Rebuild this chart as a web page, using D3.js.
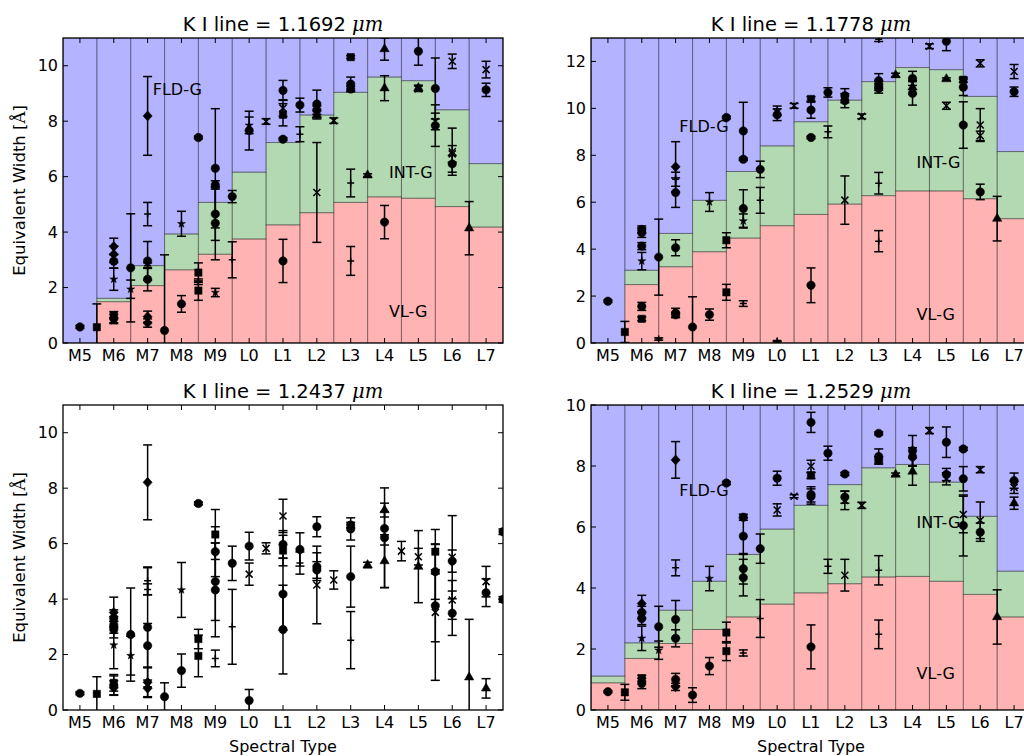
<!DOCTYPE html>
<html><head><meta charset="utf-8">
<script src="https://cdn.jsdelivr.net/npm/d3@7"></script>
<style>
body{margin:0;background:#fff;}
svg{display:block;font-family:"DejaVu Sans",sans-serif;}
</style></head>
<body><svg id="chart" width="1024" height="756"></svg>
<script>
// ---------- DATA ----------
const spectralTypes = ["M5","M6","M7","M8","M9","L0","L1","L2","L3","L4","L5","L6","L7"];
const lineWavelengths = ["1.1692","1.1778","1.2437","1.2529"];
const gravityClasses = ["VL-G","INT-G","FLD-G"];

// upper limits of the gravity-class bands per spectral type
const vlgLimit11692 = [0, 1.49, 2.07, 2.64, 3.20, 3.75, 4.26, 4.70, 5.07, 5.27, 5.22, 4.92, 4.18];
const intLimit11692 = [0, 1.61, 2.79, 3.93, 5.07, 6.16, 7.23, 8.22, 9.04, 9.59, 9.46, 8.41, 6.47];
const vlgLimit11778 = [0, 2.49, 3.25, 3.89, 4.47, 5.00, 5.48, 5.92, 6.28, 6.48, 6.48, 6.15, 5.30];
const intLimit11778 = [0, 3.10, 4.67, 6.08, 7.31, 8.40, 9.43, 10.35, 11.14, 11.74, 11.65, 10.51, 8.16];
const vlgLimit12529 = [0.89, 1.69, 2.18, 2.64, 3.05, 3.47, 3.84, 4.14, 4.36, 4.38, 4.22, 3.79, 3.05];
const intLimit12529 = [1.11, 2.20, 3.27, 4.22, 5.10, 5.93, 6.71, 7.39, 7.94, 8.05, 7.47, 6.35, 4.55];

// measured equivalent widths: [spectral type, EW, error, object group]
const ew11692 = [
 ["M5",0.58,0.05,"o"],["M5.5",0.57,0.84,"s"],
 ["M6",3.48,0.30,"D"],["M6",3.20,0.30,"D"],["M6",2.95,0.25,"o"],["M6",2.30,0.40,"*"],["M6",1.01,0.12,"s"],["M6",0.88,0.15,"o"],["M6",0.80,0.10,"*"],
 ["M6.5",2.71,1.95,"o"],["M6.5",1.94,0.33,"*"],
 ["M7",8.19,1.42,"D"],["M7",4.65,0.42,"+"],["M7",2.96,0.70,"o"],["M7",2.79,0.10,"+"],["M7",2.30,0.42,"o"],["M7",0.95,0.20,"D"],["M7",0.72,0.15,"D"],
 ["M7.5",0.45,2.73,"o"],
 ["M8",4.30,0.45,"*"],["M8",1.41,0.30,"o"],
 ["M8.5",7.41,0.05,"o"],["M8.5",2.54,0.35,"s"],["M8.5",2.21,0.10,"+"],["M8.5",1.89,0.35,"s"],
 ["M9",6.30,2.15,"o"],["M9",5.70,0.15,"o"],["M9",4.65,0.95,"o"],["M9",4.32,1.32,"o"],["M9",1.82,0.15,"*"],
 ["M9.5",5.28,0.22,"o"],["M9.5",3.00,0.65,"+"],
 ["L0",7.66,0.70,"o"],["L0",7.85,0.30,"*"],
 ["L0.5",7.99,0.10,"x"],
 ["L1",9.11,0.36,"o"],["L1",8.47,0.30,"x"],["L1",8.23,0.40,"s"],["L1",7.35,0.05,"o"],["L1",2.96,0.78,"o"],
 ["L1.5",8.58,0.25,"o"],["L1.5",7.53,0.27,"+"],
 ["L2",8.62,0.50,"o"],["L2",8.40,0.15,"o"],["L2",8.23,0.15,"^"],["L2",5.43,1.80,"x"],
 ["L2.5",8.02,0.10,"x"],
 ["L3",10.31,0.05,"s"],["L3",9.34,0.25,"o"],["L3",9.16,0.10,"o"],["L3",5.77,0.50,"+"],["L3",2.96,0.52,"+"],
 ["L3.5",6.05,0.05,"^"],
 ["L4",10.60,0.40,"^"],["L4",9.19,0.45,"^"],["L4",4.36,0.60,"o"],
 ["L5",10.52,0.50,"o"],["L5",9.17,0.10,"x"],["L5",9.20,0.10,"^"],
 ["L5.5",9.18,1.10,"o"],["L5.5",7.99,0.30,"x"],["L5.5",7.84,0.75,"o"],
 ["L6",10.16,0.26,"x"],["L6",6.90,0.85,"x"],["L6",6.82,0.30,"x"],["L6",6.46,0.30,"o"],
 ["L6.5",4.14,0.96,"^"],
 ["L7",9.86,0.30,"x"],["L7",9.13,0.24,"o"]
];
const ew11778 = [
 ["M5",1.78,0.05,"o"],["M5.5",0.47,0.45,"s"],
 ["M6",4.84,0.15,"o"],["M6",4.70,0.20,"o"],["M6",4.13,0.15,"o"],["M6",3.49,0.37,"*"],["M6",1.56,0.17,"o"],["M6",1.03,0.08,"s"],
 ["M6.5",3.66,1.62,"o"],["M6.5",0.17,0.05,"+"],
 ["M7",7.51,1.07,"D"],["M7",6.98,0.30,"+"],["M7",6.41,0.63,"o"],["M7",4.06,0.34,"o"],["M7",1.28,0.20,"o"],["M7",1.20,0.10,"o"],
 ["M7.5",0.68,1.29,"o"],
 ["M8",6.01,0.40,"*"],["M8",1.21,0.24,"o"],
 ["M8.5",9.61,0.05,"o"],["M8.5",4.38,0.32,"s"],["M8.5",2.16,0.34,"s"],
 ["M9",9.04,1.22,"o"],["M9",7.83,0.05,"o"],["M9",5.73,0.80,"o"],["M9",5.20,0.30,"*"],["M9",1.68,0.12,"+"],
 ["M9.5",7.40,0.35,"o"],["M9.5",6.08,0.55,"+"],
 ["L0",9.73,0.25,"o"],["L0",9.90,0.20,"*"],["L0",0.07,0.02,"*"],
 ["L0.5",10.11,0.10,"x"],
 ["L1",10.40,0.10,"s"],["L1",9.93,0.35,"o"],["L1",8.76,0.05,"o"],["L1",2.46,0.74,"o"],
 ["L1.5",10.68,0.20,"o"],["L1.5",9.00,0.25,"+"],
 ["L2",10.54,0.30,"o"],["L2",10.33,0.30,"o"],["L2",6.09,1.03,"x"],
 ["L2.5",9.66,0.10,"x"],
 ["L3",12.95,0.10,"+"],["L3",11.18,0.30,"o"],["L3",10.97,0.20,"o"],["L3",10.85,0.20,"o"],["L3",6.81,0.46,"+"],["L3",4.34,0.45,"+"],
 ["L3.5",11.42,0.08,"^"],
 ["L4",11.28,0.30,"o"],["L4",10.90,0.30,"^"],["L4",10.64,0.50,"o"],
 ["L4.5",12.65,0.10,"x"],
 ["L5",12.86,0.40,"o"],["L5",11.25,0.05,"^"],["L5",10.11,0.15,"x"],
 ["L5.5",11.22,0.10,"s"],["L5.5",10.90,0.35,"o"],["L5.5",9.29,0.99,"o"],
 ["L6",11.92,0.15,"x"],["L6",9.29,0.70,"x"],["L6",8.83,0.20,"x"],["L6",6.44,0.33,"o"],
 ["L6.5",5.30,0.95,"^"],
 ["L7",11.57,0.30,"x"],["L7",10.71,0.20,"o"]
];
const ew12437 = [
 ["M5",0.60,0.05,"o"],["M5.5",0.58,0.62,"s"],
 ["M6",3.52,0.55,"D"],["M6",3.31,0.30,"o"],["M6",3.07,0.30,"o"],["M6",2.90,0.30,"o"],["M6",2.34,0.85,"*"],["M6",0.98,0.30,"s"],["M6",0.88,0.35,"o"],["M6",0.80,0.25,"D"],
 ["M6.5",2.72,1.68,"o"],["M6.5",1.96,0.70,"*"],
 ["M7",8.21,1.35,"D"],["M7",4.66,0.50,"+"],["M7",4.35,0.20,"+"],["M7",2.98,2.15,"o"],["M7",2.32,0.80,"o"],["M7",1.00,0.55,"D"],["M7",0.78,0.30,"D"],
 ["M7.5",0.48,0.50,"o"],
 ["M8",4.33,0.99,"*"],["M8",1.42,0.60,"o"],
 ["M8.5",7.45,0.05,"o"],["M8.5",2.56,0.35,"s"],["M8.5",1.95,0.75,"s"],
 ["M9",6.33,0.90,"s"],["M9",5.71,0.90,"o"],["M9",4.63,1.40,"o"],["M9",4.33,1.69,"o"],["M9",1.86,0.30,"+"],
 ["M9.5",5.29,0.62,"o"],["M9.5",3.00,1.35,"+"],
 ["L0",5.91,0.50,"o"],["L0",4.90,0.40,"x"],["L0",0.34,0.40,"o"],
 ["L0.5",5.83,0.20,"x"],
 ["L1",7.00,0.60,"x"],["L1",5.97,0.50,"o"],["L1",5.75,0.55,"s"],["L1",4.18,1.30,"o"],["L1",2.90,1.60,"o"],
 ["L1.5",5.79,0.60,"o"],["L1.5",5.30,0.40,"+"],
 ["L2",6.61,0.36,"o"],["L2",5.17,0.50,"o"],["L2",5.05,0.30,"o"],["L2",4.51,1.40,"x"],
 ["L2.5",4.69,0.33,"x"],
 ["L3",6.67,0.10,"o"],["L3",6.53,0.40,"o"],["L3",4.81,1.10,"o"],["L3",2.52,1.03,"+"],
 ["L3.5",5.23,0.10,"^"],
 ["L4",7.21,0.25,"^"],["L4",6.55,0.60,"o"],["L4",6.21,1.80,"o"],["L4",5.37,0.95,"^"],
 ["L4.5",5.73,0.35,"x"],
 ["L5",5.53,0.30,"x"],["L5",5.17,1.30,"^"],
 ["L5.5",5.71,0.80,"s"],["L5.5",4.99,1.00,"o"],["L5.5",3.76,1.30,"o"],["L5.5",3.52,2.45,"x"],
 ["L6",5.51,1.50,"x"],["L6",5.37,0.40,"o"],["L6",3.97,0.70,"x"],["L6",3.49,0.80,"o"],
 ["L6.5",1.18,2.09,"^"],
 ["L7",4.63,0.55,"x"],["L7",4.23,0.50,"o"],["L7",0.78,0.35,"^"],
 ["L7.5",6.43,0.10,"o"],["L7.5",3.99,0.10,"o"]
];
const ew12529 = [
 ["M5",0.60,0.03,"o"],["M5.5",0.58,0.26,"s"],
 ["M6",3.49,0.27,"D"],["M6",3.20,0.20,"o"],["M6",3.00,0.20,"o"],["M6",2.35,0.40,"*"],["M6",1.04,0.10,"s"],["M6",0.87,0.17,"o"],
 ["M6.5",2.73,0.67,"o"],["M6.5",1.96,0.30,"*"],
 ["M7",8.20,0.60,"D"],["M7",4.66,0.26,"+"],["M7",2.97,0.62,"o"],["M7",2.35,0.28,"o"],["M7",1.00,0.20,"o"],["M7",0.76,0.12,"D"],
 ["M7.5",0.49,0.24,"o"],
 ["M8",4.31,0.40,"*"],["M8",1.44,0.28,"o"],
 ["M8.5",7.44,0.05,"o"],["M8.5",2.54,0.34,"s"],["M8.5",1.93,0.31,"s"],
 ["M9",6.32,0.10,"o"],["M9",5.70,0.60,"o"],["M9",4.63,0.50,"o"],["M9",4.34,0.60,"o"],["M9",1.87,0.10,"+"],
 ["M9.5",5.29,0.48,"o"],["M9.5",3.00,0.62,"+"],
 ["L0",7.60,0.23,"o"],["L0",6.56,0.20,"x"],
 ["L0.5",7.01,0.05,"x"],
 ["L1",9.43,0.33,"o"],["L1",7.99,0.20,"x"],["L1",7.69,0.10,"s"],["L1",7.07,0.25,"o"],["L1",7.00,0.25,"o"],["L1",2.07,0.72,"o"],
 ["L1.5",8.42,0.23,"o"],["L1.5",4.71,0.23,"+"],
 ["L2",7.74,0.05,"o"],["L2",6.98,0.20,"o"],["L2",6.87,0.30,"x"],["L2",4.42,0.52,"x"],
 ["L2.5",6.71,0.10,"x"],
 ["L3",9.07,0.05,"o"],["L3",8.31,0.25,"o"],["L3",8.20,0.10,"o"],["L3",4.58,0.48,"+"],["L3",2.48,0.47,"+"],
 ["L3.5",7.72,0.05,"^"],
 ["L4",8.50,0.50,"o"],["L4",8.30,0.30,"o"],["L4",7.82,0.45,"^"],
 ["L4.5",9.16,0.10,"x"],
 ["L5",8.78,0.50,"o"],["L5",7.72,0.20,"o"],["L5",7.58,0.20,"x"],
 ["L5.5",8.56,0.05,"o"],["L5.5",7.58,0.40,"o"],["L5.5",6.41,0.60,"x"],["L5.5",6.05,1.00,"o"],
 ["L6",7.88,0.10,"x"],["L6",6.22,0.60,"x"],["L6",5.83,0.30,"o"],
 ["L6.5",3.05,0.89,"^"],
 ["L7",7.52,0.25,"o"],["L7",7.30,0.20,"x"],["L7",6.78,0.20,"^"]
];

// ---------- PANELS ----------
const panels = [
 {line:lineWavelengths[0], left:63,  top:38,  ymax:11, yticks:[0,2,4,6,8,10], vlg:vlgLimit11692, intg:intLimit11692, pts:ew11692,
  labels:[[2.15,9.17],[9.13,6.17],[9.13,1.15]], ylabel:true, xlabel:false},
 {line:lineWavelengths[1], left:591, top:38,  ymax:13, yticks:[0,2,4,6,8,10,12], vlg:vlgLimit11778, intg:intLimit11778, pts:ew11778,
  labels:[[2.11,9.26],[9.12,7.72],[9.12,1.24]], ylabel:false, xlabel:false},
 {line:lineWavelengths[2], left:63,  top:405, ymax:11, yticks:[0,2,4,6,8,10], vlg:null, intg:null, pts:ew12437,
  labels:null, ylabel:true, xlabel:true},
 {line:lineWavelengths[3], left:591, top:405, ymax:10, yticks:[0,2,4,6,8,10], vlg:vlgLimit12529, intg:intLimit12529, pts:ew12529,
  labels:[[2.11,7.20],[9.12,6.16],[9.12,1.21]], ylabel:false, xlabel:true}
];
const W = 440, H = 305;
const bandColors = {"VL-G":"#ffb3b3","INT-G":"#b3d9b3","FLD-G":"#b3b3ff"};

function typeIndex(s){ const n = +s.slice(1); return s[0]==="M" ? n-5 : n+5; }

const svg = d3.select("#chart");
const defs = svg.append("defs");

function markerPath(kind){
  const sym = d3.symbol();
  if(kind==="o") return sym.type(d3.symbolCircle).size(56)();
  if(kind==="s") return sym.type(d3.symbolSquare).size(54)();
  if(kind==="D") return "M0,-5L4.6,0L0,5L-4.6,0Z";
  if(kind==="^") return sym.type(d3.symbolTriangle).size(38)();
  if(kind==="*") return sym.type(d3.symbolStar).size(20)();
  if(kind==="x") return "M-3.5,-3.5L3.5,3.5M-3.5,3.5L3.5,-3.5";
  if(kind==="+") return "M-3.5,0L3.5,0M0,-3.5L0,3.5";
}

panels.forEach((p,pi)=>{
  const x = d3.scaleLinear().domain([-0.5, spectralTypes.length-0.5]).range([p.left, p.left+W]);
  const y = d3.scaleLinear().domain([0, p.ymax]).range([p.top+H, p.top]);
  const g = svg.append("g");
  const clipId = "clip"+pi;
  defs.append("clipPath").attr("id",clipId).append("rect")
    .attr("x",p.left).attr("y",p.top).attr("width",W).attr("height",H);
  const plot = g.append("g").attr("clip-path",`url(#${clipId})`);

  // gravity-class bands
  if(p.vlg){
    const rows = [];
    spectralTypes.forEach((t,i)=>{
      rows.push({c:"VL-G", i, lo:0, hi:p.vlg[i]});
      rows.push({c:"INT-G", i, lo:p.vlg[i], hi:p.intg[i]});
      rows.push({c:"FLD-G", i, lo:p.intg[i], hi:p.ymax});
    });
    plot.selectAll("rect.band").data(rows).enter().append("rect")
      .attr("x",d=>x(d.i-0.5)).attr("width",d=>x(d.i+0.5)-x(d.i-0.5))
      .attr("y",d=>y(d.hi)).attr("height",d=>y(d.lo)-y(d.hi))
      .attr("fill",d=>bandColors[d.c]);
    plot.selectAll("rect.edge").data(rows).enter().append("rect")
      .attr("x",d=>x(d.i-0.5)).attr("width",d=>x(d.i+0.5)-x(d.i-0.5))
      .attr("y",d=>y(d.hi)).attr("height",d=>y(d.lo)-y(d.hi))
      .attr("fill","none").attr("stroke","#000").attr("stroke-opacity",0.3).attr("stroke-width",1);
  }

  // error bars + markers
  const pts = p.pts.map(d=>({x:typeIndex(d[0]), v:d[1], e:d[2], k:d[3]}));
  const eb = plot.append("g").attr("stroke","#000").attr("stroke-width",1.5).attr("fill","none");
  pts.forEach(d=>{
    const cx = x(d.x), y0 = y(d.v-d.e), y1 = y(d.v+d.e);
    eb.append("line").attr("x1",cx).attr("x2",cx).attr("y1",y0).attr("y2",y1);
    eb.append("line").attr("x1",cx-4.5).attr("x2",cx+4.5).attr("y1",y0).attr("y2",y0);
    eb.append("line").attr("x1",cx-4.5).attr("x2",cx+4.5).attr("y1",y1).attr("y2",y1);
  });
  plot.selectAll("path.mk").data(pts).enter().append("path")
    .attr("transform",d=>`translate(${x(d.x)},${y(d.v)})`)
    .attr("d",d=>markerPath(d.k))
    .attr("fill",d=>(d.k==="x"||d.k==="+")?"none":"#000")
    .attr("stroke","#000").attr("stroke-width",d=>(d.k==="x"||d.k==="+")?1.5:0.5);

  // band labels
  if(p.labels){
    gravityClasses.slice().reverse().forEach((c,j)=>{
      const L = p.labels[j];
      g.append("text").attr("x",x(L[0])).attr("y",y(L[1])).attr("dy","0.36em")
        .attr("font-size","16px").attr("fill","#000").text(c);
    });
  }

  // frame
  g.append("rect").attr("x",p.left).attr("y",p.top).attr("width",W).attr("height",H)
    .attr("fill","none").attr("stroke","#000").attr("stroke-width",1.3);

  // ticks (inward, all sides)
  const tk = g.append("g").attr("stroke","#000").attr("stroke-width",1);
  spectralTypes.forEach((t,i)=>{
    const cx = x(i);
    tk.append("line").attr("x1",cx).attr("x2",cx).attr("y1",p.top+H).attr("y2",p.top+H-5);
    tk.append("line").attr("x1",cx).attr("x2",cx).attr("y1",p.top).attr("y2",p.top+5);
    g.append("text").attr("x",cx).attr("y",p.top+H+18).attr("text-anchor","middle")
      .attr("font-size","16px").text(t);
  });
  p.yticks.forEach(v=>{
    const cy = y(v);
    tk.append("line").attr("x1",p.left).attr("x2",p.left+5).attr("y1",cy).attr("y2",cy);
    tk.append("line").attr("x1",p.left+W).attr("x2",p.left+W-5).attr("y1",cy).attr("y2",cy);
    g.append("text").attr("x",p.left-5).attr("y",cy).attr("dy","0.36em").attr("text-anchor","end")
      .attr("font-size","16px").text(v);
  });

  // title
  const tt = g.append("text").attr("x",p.left+W/2).attr("y",p.top-7).attr("text-anchor","middle")
    .attr("font-size","19.5px");
  tt.append("tspan").text("K I line = "+p.line+" ");
  tt.append("tspan").attr("font-family","'DejaVu Serif',serif").attr("font-style","italic").text("μm");

  if(p.xlabel){
    g.append("text").attr("x",p.left+W/2).attr("y",p.top+H+42).attr("text-anchor","middle")
      .attr("font-size","16px").text("Spectral Type");
  }
  if(p.ylabel){
    const yl = g.append("text").attr("transform",`translate(${p.left-38},${p.top+H/2}) rotate(-90)`)
      .attr("text-anchor","middle").attr("font-size","16.5px");
    yl.append("tspan").text("Equivalent Width [");
    yl.append("tspan").attr("font-family","'DejaVu Serif',serif").text("Å");
    yl.append("tspan").text("]");
  }
});
</script></body></html>
